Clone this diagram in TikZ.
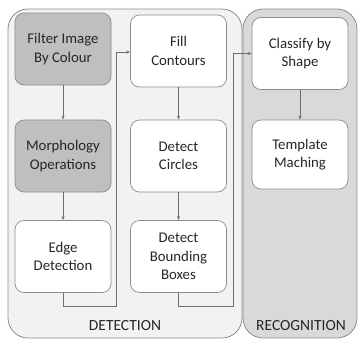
\documentclass[tikz,border=0pt]{standalone}
\usepackage{fontspec}
\setmainfont{Carlito}
\usetikzlibrary{arrows.meta}
\definecolor{panelA}{HTML}{F2F2F2}
\definecolor{panelB}{HTML}{D9D9D9}
\definecolor{boxdark}{HTML}{BFBFBF}
\definecolor{edge}{HTML}{8C8C8C}
\definecolor{arrowc}{HTML}{6E6E6E}
\begin{document}
\begin{tikzpicture}[x=1pt,y=-1pt,
  panel/.style={draw=edge,line width=0.8pt,rounded corners=20pt},
  stepbox/.style={draw=edge,line width=0.7pt,rounded corners=9pt,fill=white,
    minimum width=96pt,minimum height=72pt,align=center,
    font=\fontsize{14.8}{18.5}\selectfont,text=black!85,inner sep=0pt},
  darkbox/.style={stepbox,fill=boxdark},
  conn/.style={draw=arrowc,line width=0.6pt,-{Stealth[length=4pt,width=3pt]}},
  lbl/.style={font=\fontsize{15.5}{18}\selectfont,text=black!85}]
\useasboundingbox (0,0) rectangle (359,341);
\path[panel,fill=panelA] (8,9) rectangle (242,338);
\path[panel,fill=panelB] (243,9) rectangle (357,338);
\node[darkbox] (filt) at (63,49) {Filter Image\\By Colour};
\node[darkbox] (morph) at (63,156) {Morphology\\Operations};
\node[stepbox] (edgeb) at (63,256.5) {Edge\\Detection};
\node[stepbox] (fill) at (178.5,51) {Fill\\Contours};
\node[stepbox] (circ) at (178.5,156) {Detect\\Circles};
\node[stepbox] (bbox) at (178.5,256.5) {Detect\\Bounding\\Boxes};
\node[stepbox] (clas) at (300,53.5) {Classify by\\Shape};
\node[stepbox,minimum height=69pt] (tmpl) at (300,154.5) {Template\\Maching};
\node[lbl] (det) at (125,326) {DETECTION};
\node[lbl] (rec) at (301,326) {RECOGNITION};
\coordinate (e1) at (63,306);
\coordinate (e2) at (116,306);
\coordinate (e3) at (116,52);
\coordinate (b1) at (178.5,306);
\coordinate (b2) at (233,306);
\coordinate (b3) at (233,53.5);
\draw[conn] (filt) -- (morph);
\draw[conn] (morph) -- (edgeb);
\draw[conn] (fill) -- (circ);
\draw[conn] (circ) -- (bbox);
\draw[conn] (clas) -- (tmpl);
\draw[conn] (edgeb.south) -- (e1) -- (e2) -- (e3) -- (fill.west |- e3);
\draw[conn] (bbox.south) -- (b1) -- (b2) -- (b3) -- (clas.west);
\end{tikzpicture}
\end{document}
